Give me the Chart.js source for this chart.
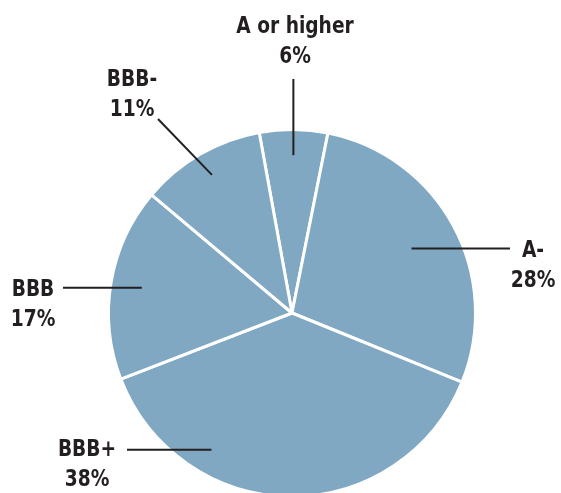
<!DOCTYPE html>
<html>
<head>
<meta charset="utf-8">
<script src="https://cdn.jsdelivr.net/npm/chart.js@4"></script>
<style>
  html, body { margin: 0; padding: 0; background: #fff; overflow: hidden; }
  #wrap { position: absolute; left: 0; top: 0; width: 561px; height: 498px; }
</style>
</head>
<body>
<div id="wrap"><canvas id="pie" width="561" height="498"></canvas></div>
<script>
// Données
const ratings = ['A or higher', 'A-', 'BBB+', 'BBB', 'BBB-'];
const shares = [6, 28, 38, 17, 11];
const pctLabels = ['6%', '28%', '38%', '17%', '11%'];

const sliceColor = '#80a8c2';
const inkColor = '#231f20';

// Placement des étiquettes (texte + trait de rappel)
// frac / offset : point intérieur du trait, relatif au rayon et à l'angle médian de la part
const labelLayout = [
    { x: 295, y: 33, frac: 0.86, offset: 0, to: { y: 79 } },
    { x: 533, y: 257, frac: 0.74, offset: 0, to: { x: 510 } },
    { x: 87, y: 456, frac: 0.865, offset: 30, to: { x: 127 } },
    { x: 33, y: 296, frac: 0.83, offset: 0, to: { x: 63 } },
    { x: 132, y: 86, frac: 0.87, offset: 0, to: { x: 158, y: 119 } }
];

const leaderLabels = {
    id: 'leaderLabels',
    afterDatasetsDraw(chart) {
        const ctx = chart.ctx;
        const arcs = chart.getDatasetMeta(0).data;
        ctx.save();
        arcs.forEach((arc, i) => {
            const lay = labelLayout[i];
            const mid = (arc.startAngle + arc.endAngle) / 2 + lay.offset * Math.PI / 180;
            const r = arc.outerRadius * lay.frac;
            const ix = arc.x + Math.cos(mid) * r;
            const iy = arc.y + Math.sin(mid) * r;
            const ox = lay.to.x !== undefined ? lay.to.x : ix;
            const oy = lay.to.y !== undefined ? lay.to.y : iy;

            ctx.strokeStyle = inkColor;
            ctx.lineWidth = 2;
            ctx.beginPath();
            ctx.moveTo(ox, oy);
            ctx.lineTo(ix, iy);
            ctx.stroke();

            // texte un peu resserré, comme la police condensée d'origine
            ctx.save();
            ctx.translate(lay.x, lay.y);
            ctx.scale(0.9, 1);
            ctx.fillStyle = inkColor;
            ctx.font = 'bold 23px "DejaVu Sans Condensed", "DejaVu Sans", sans-serif';
            ctx.textAlign = 'center';
            ctx.textBaseline = 'alphabetic';
            ctx.fillText(ratings[i], 0, 0);
            ctx.fillText(pctLabels[i], 0, 30);
            ctx.restore();
        });
        ctx.restore();
    }
};

new Chart(document.getElementById('pie').getContext('2d'), {
    type: 'pie',
    data: {
        labels: ratings,
        datasets: [{
            data: shares,
            backgroundColor: sliceColor,
            borderColor: '#ffffff',
            borderWidth: 3
        }]
    },
    options: {
        responsive: false,
        animation: false,
        rotation: -10.3,
        layout: { padding: { top: 128, left: 107, right: 84, bottom: 0 } },
        plugins: {
            legend: { display: false },
            tooltip: { enabled: false }
        }
    },
    plugins: [leaderLabels]
});
</script>
</body>
</html>
